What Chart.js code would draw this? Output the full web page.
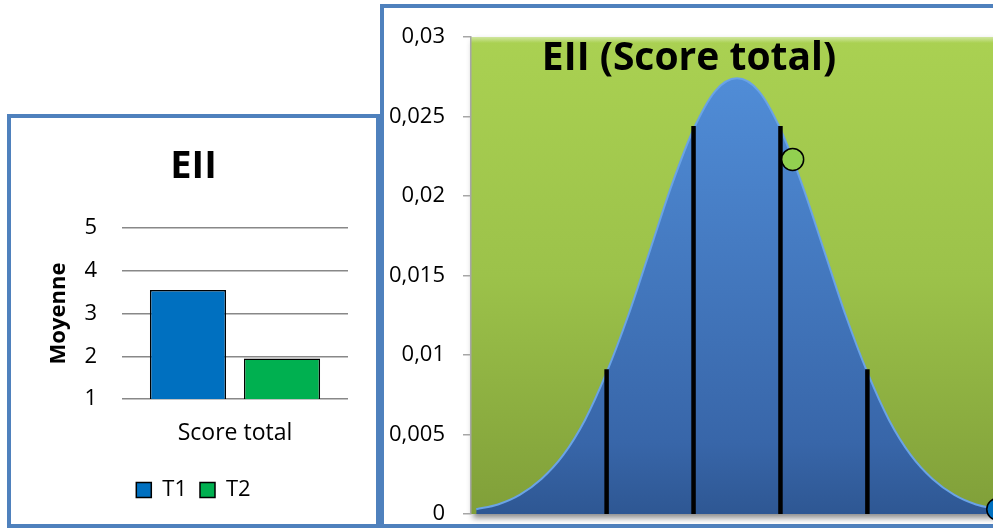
<!DOCTYPE html>
<html>
<head>
<meta charset="utf-8">
<script src="https://cdn.jsdelivr.net/npm/chart.js@4.4.1/dist/chart.umd.min.js"></script>
<style>
  html, body { margin: 0; padding: 0; background: #fff; }
  body { width: 993px; height: 529px; overflow: hidden; position: relative; }
  .panel { position: absolute; box-sizing: border-box; border: 4px solid #4F81BD; background: #fff; }
  #distPanel { left: 380px; top: 4px; width: 660px; height: 524px; }
  #barPanel { left: 7px; top: 114px; width: 373px; height: 414px; }
  canvas { position: absolute; }
  #barChart { left: 11px; top: 118px; }
  #distChart { left: 384px; top: 3px; }
</style>
</head>
<body>
<div class="panel" id="distPanel"></div>
<div class="panel" id="barPanel"></div>
<canvas id="distChart" width="640" height="545"></canvas>
<canvas id="barChart" width="365" height="406"></canvas>
<script>
// Mean score per time point
const categories = ['Score total'];
const t1Values = [3.55];
const t2Values = [1.95];

// Normal curve of the total score (x in SD units from the mean)
const curveX = [-3, -2.75, -2.5, -2.25, -2, -1.75, -1.5, -1.25, -1, -0.75, -0.5, -0.25, 0,
                0.25, 0.5, 0.75, 1, 1.25, 1.5, 1.75, 2, 2.25, 2.5, 2.75, 3];
const curveY = [0.0003, 0.0006, 0.0012, 0.0022, 0.0037, 0.0059, 0.0089, 0.0125, 0.0166, 0.0207, 0.0242, 0.0266, 0.0274,
                0.0266, 0.0242, 0.0207, 0.0166, 0.0125, 0.0089, 0.0059, 0.0037, 0.0022, 0.0012, 0.0006, 0.0003];

// Cut-off markers
const cutX = [-1.5, -0.5, 0.5, 1.5];
const cutTop = [0.0091, 0.0244, 0.0244, 0.0091];

// Group positions on the curve
const t1Pos = { x: 3.0, y: 0.0003 };
const t2Pos = { x: 0.64, y: 0.0223 };

const yTickMax = 0.03;
const yTickStep = 0.005;

const FONT = '"Open Sans", sans-serif';
Chart.defaults.font.family = FONT;
Chart.defaults.color = '#000';

const blue = '#0070C0';
const green = '#00B050';

new Chart(document.getElementById('barChart'), {
  type: 'bar',
  data: {
    labels: categories,
    datasets: [
      { label: 'T1', data: t1Values, backgroundColor: blue, borderColor: '#000', borderWidth: 1.5, borderSkipped: false },
      { label: 'T2', data: t2Values, backgroundColor: green, borderColor: '#000', borderWidth: 1.5, borderSkipped: false }
    ]
  },
  options: {
    responsive: false,
    animation: false,
    categoryPercentage: 0.832,
    barPercentage: 0.81,
    layout: { padding: { left: 28, right: 28, top: 0, bottom: 13 } },
    plugins: {
      title: {
        display: true, text: 'EII', color: '#000',
        font: { size: 38, weight: 'bold' },
        padding: { top: 26.7, bottom: 37.7 }
      },
      legend: {
        position: 'bottom',
        labels: { boxWidth: 15, boxHeight: 15, padding: 13, font: { size: 22 }, color: '#000' }
      },
      tooltip: { enabled: false }
    },
    scales: {
      x: {
        grid: { display: false, drawTicks: false },
        border: { display: false },
        ticks: { padding: 20.8, font: { size: 23 } },
        afterFit: s => { s.height = 67; }
      },
      y: {
        min: 1, max: 5,
        ticks: { stepSize: 1, padding: 25, font: { size: 22 } },
        grid: { color: '#888', lineWidth: 1.5, drawTicks: false },
        border: { display: false },
        title: { display: true, text: 'Moyenne', font: { size: 22, weight: 'bold' }, padding: { top: 6.8, bottom: 0 } },
        afterFit: s => { s.width = 83; }
      }
    }
  }
});

// Green plot background with a soft drop shadow and a light top edge
const plotBackground = {
  id: 'plotBackground',
  beforeDraw(chart) {
    const { ctx, chartArea: a } = chart;
    ctx.save();
    const g = ctx.createLinearGradient(0, a.top, 0, a.bottom);
    g.addColorStop(0, '#AAD152');
    g.addColorStop(0.5, '#9CC24A');
    g.addColorStop(1, '#809F39');
    ctx.shadowColor = 'rgba(0,0,0,0.45)';
    ctx.shadowBlur = 6;
    ctx.shadowOffsetX = 2;
    ctx.shadowOffsetY = 4;
    ctx.fillStyle = g;
    ctx.fillRect(a.left, a.top, a.width, a.height);
    ctx.shadowColor = 'transparent';
    const h = ctx.createLinearGradient(0, a.top, 0, a.top + 6);
    h.addColorStop(0, 'rgba(255,255,255,0.45)');
    h.addColorStop(1, 'rgba(255,255,255,0)');
    ctx.fillStyle = h;
    ctx.fillRect(a.left, a.top, a.width, 6);
    ctx.restore();
  }
};

// Title sits inside the plot area
const insetTitle = {
  id: 'insetTitle',
  afterDatasetsDraw(chart, args, opts) {
    const { ctx, chartArea: a } = chart;
    ctx.save();
    ctx.font = 'bold 39px ' + FONT;
    ctx.fillStyle = '#000';
    ctx.textAlign = 'center';
    ctx.textBaseline = 'alphabetic';
    ctx.fillText(opts.text, a.left + 218, a.top + 33);
    ctx.restore();
  }
};

const curveFill = c => {
  const { ctx, chartArea } = c.chart;
  if (!chartArea) return null;
  const g = ctx.createLinearGradient(0, chartArea.top, 0, chartArea.bottom);
  g.addColorStop(0, '#5391DC');
  g.addColorStop(0.85, '#3866A9');
  g.addColorStop(1, '#2E5793');
  return g;
};

const cutLines = cutX.map((x, i) => ({
  label: 'cut' + i,
  data: [{ x: x, y: 0 }, { x: x, y: cutTop[i] }],
  borderColor: '#000',
  borderWidth: 4.5,
  pointRadius: 0,
  order: 2
}));

new Chart(document.getElementById('distChart'), {
  type: 'line',
  data: {
    datasets: [
      { label: 'T2', type: 'scatter', data: [t2Pos], pointRadius: 11, backgroundColor: '#92D050', borderColor: '#000', borderWidth: 1.5, order: 1, clip: false },
      { label: 'T1', type: 'scatter', data: [t1Pos], pointRadius: 11, backgroundColor: blue, borderColor: '#000', borderWidth: 1.5, order: 1, clip: false },
      ...cutLines,
      {
        label: 'Score total',
        data: curveX.map((x, i) => ({ x: x, y: curveY[i] })),
        fill: 'origin',
        backgroundColor: curveFill,
        borderColor: '#6AA3E6',
        borderWidth: 2,
        pointRadius: 0,
        cubicInterpolationMode: 'monotone',
        order: 3
      }
    ]
  },
  options: {
    responsive: false,
    animation: false,
    layout: { padding: { top: 34, right: 21, bottom: 34, left: 0 } },
    plugins: {
      legend: { display: false },
      tooltip: { enabled: false },
      insetTitle: { text: 'EII (Score total)' }
    },
    scales: {
      x: { type: 'linear', display: false, min: -3.06, max: 3.06 },
      y: {
        min: 0, max: yTickMax,
        ticks: {
          stepSize: yTickStep, padding: 18, font: { size: 22 },
          callback: v => String(+v.toFixed(3)).replace('.', ',')
        },
        grid: { drawOnChartArea: false, tickLength: 8, color: '#A6A6A6', lineWidth: 1.5 },
        border: { color: '#A6A6A6', width: 1.5 },
        afterFit: s => { s.width = 87; }
      }
    }
  },
  plugins: [plotBackground, insetTitle]
});
</script>
</body>
</html>
